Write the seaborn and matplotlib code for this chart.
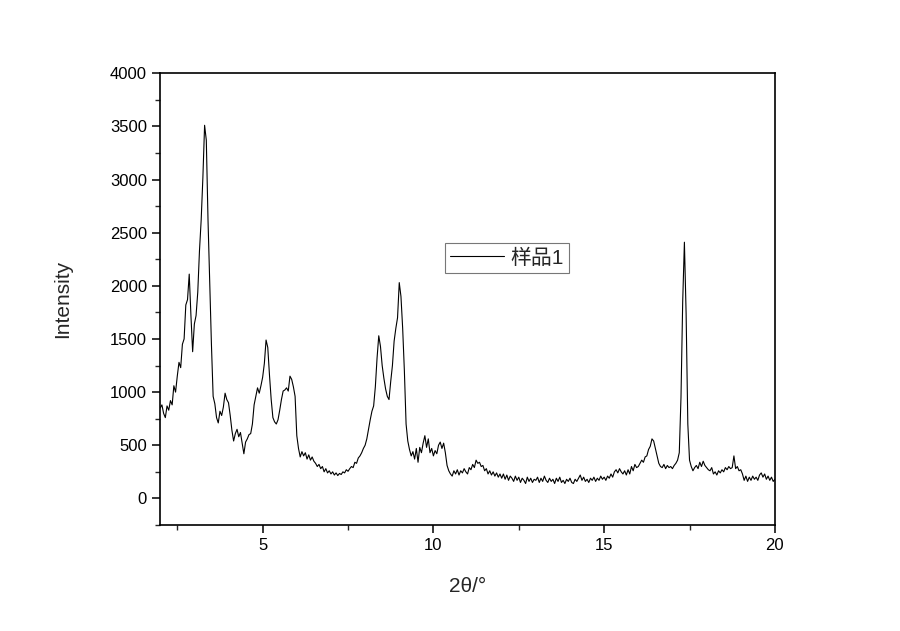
import numpy as np
import pandas as pd
import matplotlib
matplotlib.use("Agg")
import matplotlib.pyplot as plt
from matplotlib.ticker import MultipleLocator
import seaborn as sns

# ---- data (step 0.05 deg) ----
two_theta = np.round(np.arange(2.0, 20.0001, 0.05), 2)

i_02 = [850, 880, 800, 760, 870, 830, 920, 880, 1060, 1000, 1150, 1280, 1230, 1450, 1500, 1820, 1870, 2110, 1720, 1380]
i_03 = [1640, 1720, 1940, 2330, 2620, 3020, 3510, 3370, 2620, 2050, 1450, 960, 890, 760, 710, 820, 780, 860, 990, 930]
i_04 = [900, 780, 640, 540, 610, 650, 580, 620, 520, 420, 530, 560, 600, 610, 700, 880, 960, 1040, 990, 1060]
i_05 = [1140, 1270, 1490, 1420, 1160, 930, 760, 720, 700, 740, 830, 930, 1010, 1020, 1040, 1010, 1150, 1120, 1050, 960]
i_06 = [590, 470, 390, 440, 400, 430, 370, 410, 360, 390, 350, 330, 300, 320, 280, 300, 250, 280, 240, 260]
i_07 = [230, 250, 220, 240, 215, 235, 225, 250, 240, 270, 255, 280, 300, 290, 340, 330, 380, 400, 430, 470]
i_08 = [500, 560, 650, 740, 820, 870, 1050, 1320, 1530, 1430, 1250, 1130, 1030, 960, 930, 1100, 1250, 1480, 1600, 1700]
i_09 = [2030, 1900, 1600, 1200, 700, 540, 460, 400, 440, 370, 470, 340, 480, 430, 520, 590, 480, 560, 430, 470]
i_10 = [400, 450, 420, 500, 530, 470, 520, 430, 310, 260, 230, 210, 260, 230, 270, 220, 260, 240, 280, 250]
i_11 = [230, 290, 270, 320, 290, 360, 330, 340, 300, 310, 260, 280, 230, 260, 220, 250, 210, 240, 200, 230]
i_12 = [190, 230, 180, 220, 170, 210, 190, 160, 210, 170, 200, 150, 190, 170, 140, 200, 160, 190, 150, 180]
i_13 = [170, 200, 150, 190, 160, 210, 170, 150, 190, 160, 180, 140, 190, 160, 200, 150, 170, 140, 180, 160]
i_14 = [190, 150, 140, 180, 160, 190, 220, 170, 200, 160, 180, 150, 190, 170, 200, 160, 190, 170, 210, 180]
i_15 = [200, 170, 210, 190, 230, 200, 250, 270, 240, 280, 250, 230, 260, 220, 270, 230, 300, 260, 320, 290]
i_16 = [300, 330, 360, 340, 390, 400, 460, 490, 560, 540, 470, 400, 330, 300, 290, 320, 280, 310, 290, 300]
i_17 = [280, 310, 330, 360, 430, 950, 1850, 2410, 1740, 700, 360, 300, 260, 290, 310, 280, 340, 300, 350, 310]
i_18 = [290, 270, 260, 290, 230, 250, 220, 260, 240, 270, 250, 290, 270, 300, 280, 290, 400, 280, 300, 260]
i_19 = [270, 230, 170, 210, 160, 200, 170, 210, 180, 200, 170, 220, 240, 200, 230, 180, 210, 170, 200, 160, 180]

intensity = (i_02 + i_03 + i_04 + i_05 + i_06 + i_07 + i_08 + i_09 + i_10 +
             i_11 + i_12 + i_13 + i_14 + i_15 + i_16 + i_17 + i_18 + i_19)

series_label = "样品1"
x_label = "2θ/°"
y_label = "Intensity"
x_major = [5, 10, 15, 20]
y_major = [0, 500, 1000, 1500, 2000, 2500, 3000, 3500, 4000]

df = pd.DataFrame({"two_theta": two_theta[:len(intensity)], "intensity": intensity})

# ---- style ----
sns.set_style("white")
plt.rcParams["font.family"] = ["Liberation Sans", "Noto Sans CJK SC", "DejaVu Sans"]

fig = plt.figure(figsize=(9, 6.31), dpi=100)
ax = fig.add_axes([0.178, 0.168, 0.683, 0.716])

sns.lineplot(data=df, x="two_theta", y="intensity", ax=ax, color="black",
             linewidth=0.8, label=series_label)

ax.set_xlim(2, 20)
ax.set_ylim(-250, 4000)
ax.set_xticks(x_major)
ax.set_yticks(y_major)
ax.xaxis.set_minor_locator(MultipleLocator(2.5))
ax.yaxis.set_minor_locator(MultipleLocator(250))

for s in ax.spines.values():
    s.set_visible(True)
    s.set_color("black")
    s.set_linewidth(1.2)

ax.tick_params(axis="both", which="major", direction="out", length=6, width=1.1,
               labelsize=12, colors="black", bottom=True, left=True, top=False, right=False)
ax.tick_params(axis="both", which="minor", direction="out", length=3.5, width=1.0,
               bottom=True, left=True, top=False, right=False)

ax.set_xlabel(x_label, fontsize=15, labelpad=17)
ax.set_ylabel(y_label, fontsize=15, labelpad=27)

leg = ax.legend(loc="upper left", bbox_to_anchor=(0.463, 0.624), borderaxespad=0,
                fancybox=False, frameon=True, fontsize=15, handlelength=2.6,
                handletextpad=0.3, borderpad=0.25)
leg.get_frame().set_edgecolor("#555555")
leg.get_frame().set_linewidth(0.8)

fig.savefig("out.png", dpi=100, facecolor="white")
